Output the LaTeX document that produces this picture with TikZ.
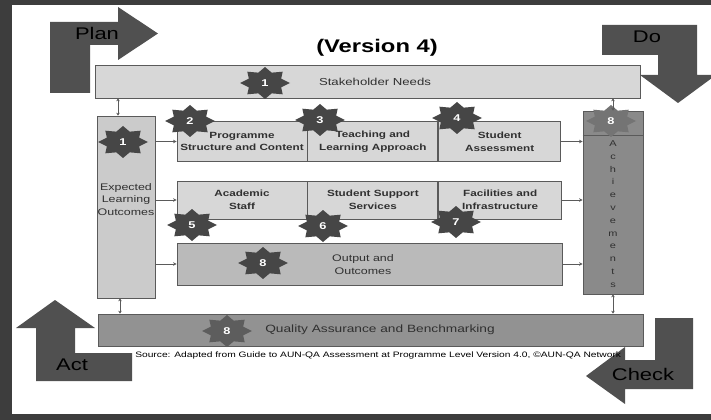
\documentclass[tikz,border=0pt]{standalone}
\usepackage{fontspec}
\setmainfont{Liberation Sans}[FakeStretch=1.3]
\usetikzlibrary{calc, arrows.meta, positioning}

\definecolor{framegray}{HTML}{3D3D3D}
\definecolor{arrowgray}{HTML}{505050}
\definecolor{boxline}{HTML}{5A5A5A}
\definecolor{boxtext}{HTML}{303030}
\definecolor{lightfill}{HTML}{D7D7D7}
\definecolor{elofill}{HTML}{CBCBCB}
\definecolor{outfill}{HTML}{BABABA}
\definecolor{achfill}{HTML}{8A8A8A}
\definecolor{qafill}{HTML}{929292}
\definecolor{badgedark}{HTML}{464646}
\definecolor{badgesoft}{HTML}{747474}

\newcommand{\unitpx}{0.025cm}

% eight-pointed badge: fill colour, name, centre, number
\newcommand{\badge}[4][badgedark]{%
  \fill[#1, shift={(#3)}] plot[samples at={0,...,15}]
    ({25*(1-0.3*mod(\x,2))*cos(22.5*\x)}, {16*(1-0.3*mod(\x,2))*sin(22.5*\x)}) -- cycle;
  \node[badgenum] (#2) at (#3) {#4};
}

\tikzset{
  box/.style={draw=boxline, line width=0.6pt, inner sep=1pt, align=center,
    text=boxtext, font=\fontsize{6.8}{8}\selectfont},
  boxlabel/.style={inner sep=0pt, align=center, text=boxtext},
  rowbox/.style={box, fill=lightfill, minimum height=40*\unitpx,
    font=\fontsize{6.4}{9}\selectfont\bfseries},
  badgenum/.style={text=white, font=\fontsize{7}{8}\selectfont\bfseries, inner sep=0pt},
  link/.style={draw=boxline, line width=0.4pt, -{Stealth[length=2.5pt, width=2.5pt]}},
  tie/.style={draw=boxline, line width=0.4pt, {Stealth[length=2pt, width=2.5pt]}-{Stealth[length=2pt, width=2.5pt]}},
  pdca/.style={fill=arrowgray},
  pdcatext/.style={inner sep=0pt, text=black, font=\fontsize{12}{14}\selectfont},
}

\begin{document}
\begin{tikzpicture}[x=\unitpx, y=-\unitpx]
  \useasboundingbox (0,0) rectangle (711,420);
  \fill[framegray] (0,0) rectangle (711,420);
  \fill[white] (12,5) rectangle (711,414);

  % PDCA arrows
  \fill[pdca] (50,93) -- (50,22) -- (118,22) -- (118,7) -- (158,33.5) -- (118,60)
    -- (118,45) -- (90,45) -- (90,93) -- cycle;
  \node[pdcatext] (plan) at (97,33) {Plan};
  \fill[pdca] (602,25) -- (697,25) -- (697,75) -- (716,75) -- (678,103) -- (640,75)
    -- (658,75) -- (658,55) -- (602,55) -- cycle;
  \node[pdcatext] (do) at (647,37) {Do};
  \fill[pdca] (55,300) -- (95,328) -- (75,328) -- (75,353) -- (132,353) -- (132,381)
    -- (36,381) -- (36,328) -- (16,328) -- cycle;
  \node[pdcatext] (act) at (72,365) {Act};
  \fill[pdca] (693,318) -- (693,389) -- (625,389) -- (625,404) -- (586,376) -- (625,347)
    -- (625,360) -- (655,360) -- (655,318) -- cycle;
  \node[pdcatext] (check) at (643,374) {Check};

  \node[font=\fontsize{13}{15}\selectfont\bfseries, text=black] (title) at (377,48) {(Version 4)};

  % boxes
  \node[box, fill=lightfill, minimum width=545*\unitpx, minimum height=33*\unitpx] (needs) at (367.5,81.5) {};
  \node[boxlabel, font=\fontsize{7.2}{8}\selectfont] (needstext) at (375,82) {Stakeholder Needs};
  \node[box, fill=elofill, minimum width=58*\unitpx, minimum height=182*\unitpx] (elo) at (126,207) {};
  \node[boxlabel, font=\fontsize{6.8}{8.9}\selectfont] (elotext) at (126,199.5) {Expected\\Learning\\Outcomes};

  \node[rowbox, minimum width=130*\unitpx] (psc) at (242,141.5) {Programme\\Structure and Content};
  \node[rowbox, minimum width=130*\unitpx, right=0pt of psc] (tla) {Teaching and\\Learning Approach};
  \node[rowbox, minimum width=122*\unitpx, right=0pt of tla] (sa) {Student\\Assessment};

  \node[rowbox, minimum width=130*\unitpx, minimum height=38*\unitpx] (staff) at (242,200) {Academic\\Staff};
  \node[rowbox, minimum width=130*\unitpx, minimum height=38*\unitpx, right=0pt of staff] (sss) {Student Support\\Services};
  \node[rowbox, minimum width=123*\unitpx, minimum height=38*\unitpx, right=0pt of sss] (fac) {Facilities and\\Infrastructure};

  \node[box, fill=outfill, minimum width=385*\unitpx, minimum height=42*\unitpx] (out) at (369.5,264) {};
  \node[boxlabel, font=\fontsize{6.8}{9.3}\selectfont] (outtext) at (363,264.5) {Output and\\Outcomes};

  \node[box, fill=achfill, minimum width=60*\unitpx, minimum height=183*\unitpx] (ach) at (613,202.5) {};
  \draw[boxline, line width=0.4pt] (ach.west |- 0,135) -- (ach.east |- 0,135);
  \node[boxlabel, font=\fontsize{6}{9.1}\selectfont] (achtext) at (613,214)
    {A\\c\\h\\i\\e\\v\\e\\m\\e\\n\\t\\s};

  \node[box, fill=qafill, minimum width=545*\unitpx, minimum height=32*\unitpx] (qa) at (370.5,330) {};
  \node[boxlabel, font=\fontsize{7.5}{8}\selectfont] (qatext) at (380,330) {Quality Assurance and Benchmarking};

  \node[anchor=west, inner sep=0pt, text=black, font=\fontsize{5.6}{6}\selectfont] (source) at (135,355)
    {Source: Adapted from Guide to AUN-QA Assessment at Programme Level Version 4.0, ©AUN-QA Network};

  % badges
  \badge{b1}{265,83}{1}
  \badge{b1e}{123,142}{1}
  \badge{b2}{190,121}{2}
  \badge{b3}{320,120}{3}
  \badge{b4}{457,118}{4}
  \badge{b5}{192,225}{5}
  \badge{b6}{323,226}{6}
  \badge{b7}{456,222}{7}
  \badge{b8o}{263,263}{8}
  \badge[badgesoft]{b8a}{611,121}{8}
  \badge[badgesoft!80!black]{b8q}{227,331}{8}

  % connectors
  \draw[tie] ([xshift=-8*\unitpx]elo.north) -- ([xshift=-8*\unitpx]elo.north |- needs.south);
  \draw[tie] ([xshift=-6*\unitpx]elo.south) -- ([xshift=-6*\unitpx]elo.south |- qa.north);
  \draw[tie] (ach.north) -- (ach.north |- needs.south);
  \draw[tie] (ach.south) -- (ach.south |- qa.north);
  \draw[link] (elo.east |- psc.west) -- (psc.west);
  \draw[link] (elo.east |- staff.west) -- (staff.west);
  \draw[link] (elo.east |- out.west) -- (out.west);
  \draw[link] (sa.east) -- (sa.east -| ach.west);
  \draw[link] (fac.east) -- (fac.east -| ach.west);
  \draw[link] (out.east) -- (out.east -| ach.west);
\end{tikzpicture}
\end{document}
